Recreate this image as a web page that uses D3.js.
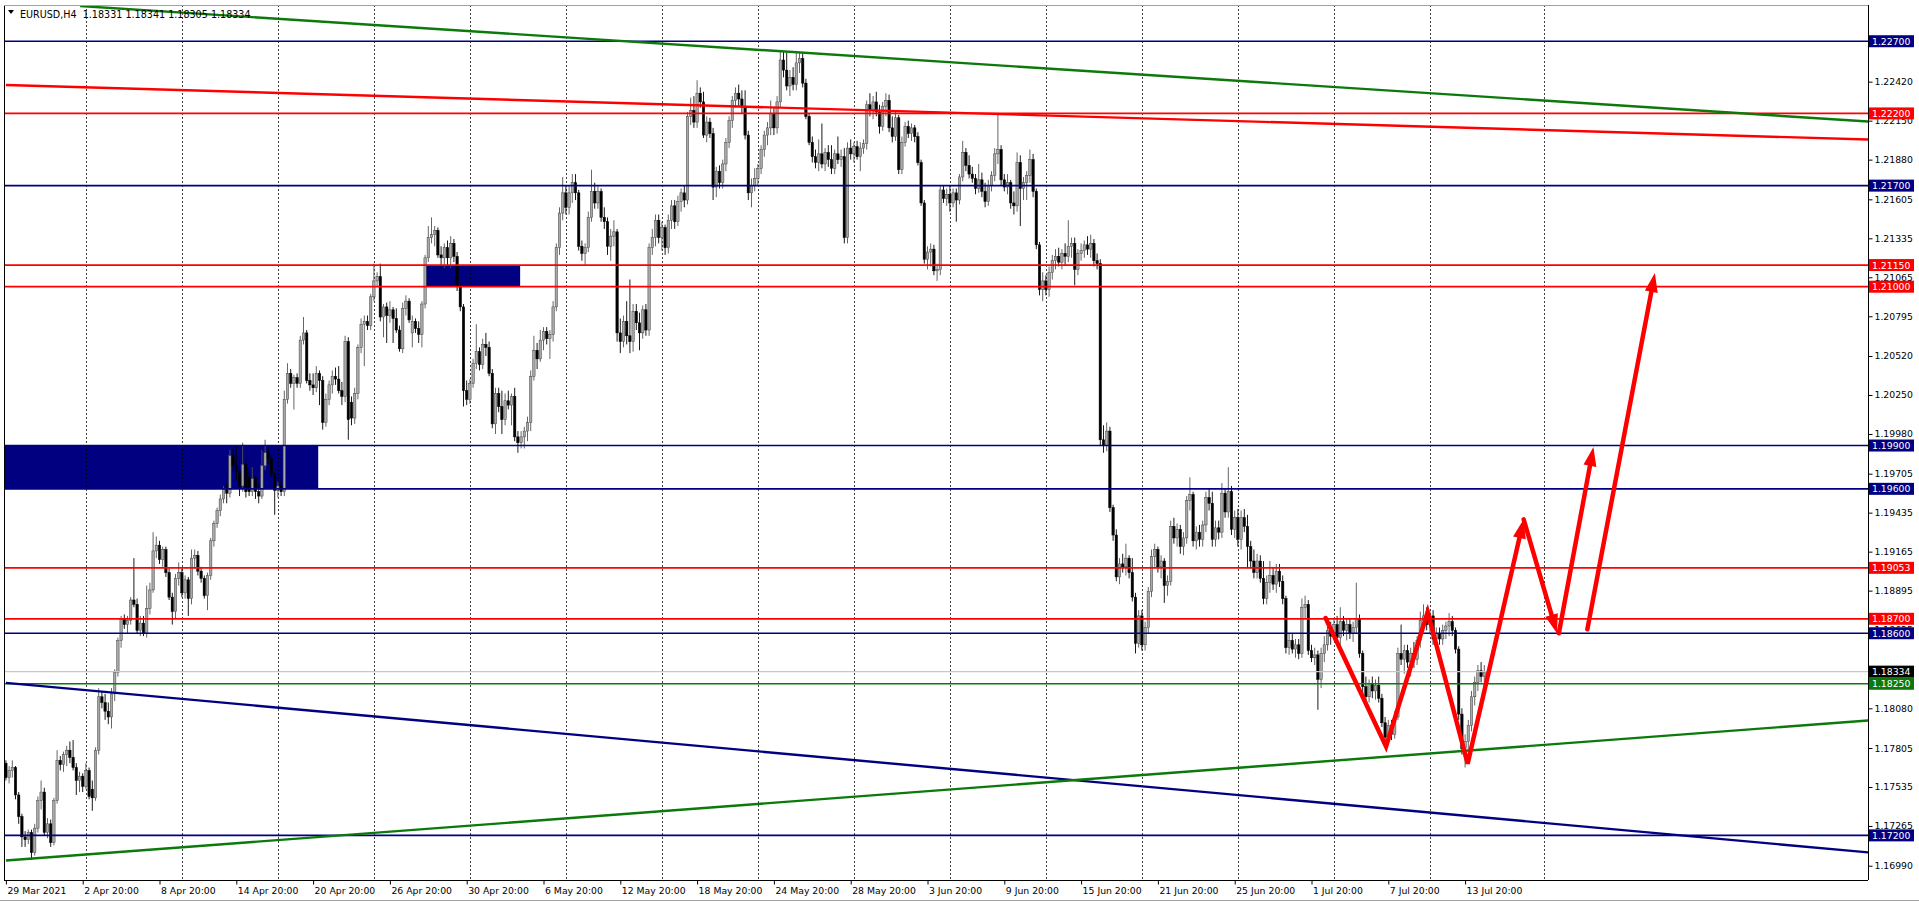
<!DOCTYPE html>
<html><head><meta charset="utf-8">
<script src="https://cdn.jsdelivr.net/npm/d3@7/dist/d3.min.js"></script>
<style>
html,body{margin:0;padding:0;background:#fff;overflow:hidden;}
svg{display:block;}
text{font-family:"DejaVu Sans",Tahoma,sans-serif;}
</style></head><body>
<svg id="chart" width="1919" height="902"></svg>
<script>
// ---------- DATA ----------
const symbolTitle = "EURUSD,H4";
const titleQuote = ["1.18331", "1.18341", "1.18305", "1.18334"];

// H4 candles, [open, high, low, close], one per bar starting 29 Mar 2021
const ohlc = [
[1.1770,1.1772,1.1758,1.1760],[1.1760,1.1768,1.1756,1.1765],[1.1765,1.1772,1.1760,1.1767],[1.1767,1.1768,1.1745,1.1748],[1.1748,1.1750,1.1728,1.1733],[1.1733,1.1735,1.1712,1.1719],
[1.1719,1.1723,1.1712,1.1717],[1.1717,1.1724,1.1714,1.1722],[1.1722,1.1724,1.1703,1.1708],[1.1708,1.1728,1.1706,1.1725],[1.1725,1.1747,1.1722,1.1744],[1.1744,1.1758,1.1738,1.1750],
[1.1750,1.1753,1.1720,1.1722],[1.1722,1.1732,1.1718,1.1728],[1.1728,1.1731,1.1712,1.1715],[1.1715,1.1746,1.1713,1.1744],[1.1744,1.1779,1.1742,1.1772],[1.1772,1.1775,1.1765,1.1769],
[1.1769,1.1778,1.1764,1.1776],[1.1776,1.1782,1.1768,1.1779],[1.1779,1.1785,1.1770,1.1774],[1.1774,1.1786,1.1765,1.1767],[1.1767,1.1770,1.1748,1.1758],[1.1758,1.1764,1.1750,1.1761],
[1.1761,1.1763,1.1750,1.1754],[1.1754,1.1770,1.1752,1.1765],[1.1765,1.1767,1.1745,1.1747],[1.1752,1.1758,1.1737,1.1746],[1.1746,1.1781,1.1744,1.1779],[1.1779,1.1822,1.1776,1.1816],
[1.1816,1.1820,1.1808,1.1812],[1.1812,1.1818,1.1800,1.1806],[1.1806,1.1812,1.1797,1.1802],[1.1802,1.1822,1.1794,1.1818],[1.1818,1.1835,1.1813,1.1833],[1.1833,1.1857,1.1830,1.1855],
[1.1855,1.1872,1.1850,1.1870],[1.1870,1.1873,1.1863,1.1866],[1.1866,1.1872,1.1860,1.1869],[1.1869,1.1885,1.1866,1.1883],[1.1883,1.1912,1.1878,1.1880],[1.1880,1.1884,1.1860,1.1862],
[1.1862,1.1872,1.1858,1.1867],[1.1867,1.1872,1.1858,1.1860],[1.1860,1.1893,1.1857,1.1877],[1.1877,1.1895,1.1873,1.1890],[1.1890,1.1930,1.1888,1.1917],[1.1917,1.1927,1.1912,1.1921],
[1.1921,1.1924,1.1908,1.1911],[1.1911,1.1920,1.1906,1.1918],[1.1918,1.1920,1.1899,1.1902],[1.1902,1.1905,1.1883,1.1885],[1.1885,1.1888,1.1866,1.1875],[1.1875,1.1901,1.1870,1.1898],
[1.1898,1.1909,1.1893,1.1902],[1.1902,1.1905,1.1885,1.1888],[1.1888,1.1900,1.1884,1.1897],[1.1897,1.1899,1.1872,1.1884],[1.1884,1.1918,1.1880,1.1912],[1.1912,1.1918,1.1905,1.1914],
[1.1914,1.1917,1.1900,1.1903],[1.1903,1.1906,1.1895,1.1898],[1.1898,1.1900,1.1884,1.1886],[1.1886,1.1902,1.1876,1.1900],[1.1900,1.1926,1.1897,1.1924],[1.1924,1.1938,1.1920,1.1936],
[1.1936,1.1947,1.1933,1.1945],[1.1945,1.1956,1.1941,1.1953],[1.1953,1.1962,1.1950,1.1960],[1.1960,1.1964,1.1950,1.1957],[1.1957,1.1987,1.1954,1.1983],[1.1983,1.1988,1.1972,1.1976],
[1.1976,1.1990,1.1966,1.1972],[1.1972,1.1980,1.1955,1.1962],[1.1962,1.1992,1.1958,1.1977],[1.1977,1.1980,1.1954,1.1958],[1.1968,1.1972,1.1955,1.1958],[1.1958,1.1975,1.1955,1.1967],
[1.1967,1.1969,1.1953,1.1958],[1.1958,1.1963,1.1950,1.1955],[1.1955,1.1987,1.1953,1.1976],[1.1976,1.1994,1.1973,1.1985],[1.1985,1.1989,1.1977,1.1981],[1.1981,1.1984,1.1968,1.1970],
[1.1970,1.1972,1.1942,1.1959],[1.1959,1.1965,1.1954,1.1962],[1.1962,1.1966,1.1955,1.1958],[1.1958,1.2028,1.1955,1.2022],[1.2022,1.2047,1.2019,1.2040],[1.2040,1.2043,1.2030,1.2033],
[1.2033,1.2039,1.2015,1.2037],[1.2037,1.2040,1.2030,1.2033],[1.2033,1.2066,1.2030,1.2063],[1.2063,1.2079,1.2060,1.2068],[1.2068,1.2070,1.2033,1.2035],[1.2035,1.2040,1.2028,1.2032],
[1.2032,1.2040,1.2025,1.2030],[1.2030,1.2045,1.2027,1.2040],[1.2040,1.2042,1.2018,1.2035],[1.2035,1.2038,1.2001,1.2006],[1.2006,1.2026,1.2003,1.2022],[1.2022,1.2035,1.2018,1.2032],
[1.2032,1.2042,1.2026,1.2038],[1.2038,1.2044,1.2032,1.2036],[1.2036,1.2045,1.2026,1.2028],[1.2028,1.2034,1.2018,1.2024],[1.2024,1.2066,1.2020,1.2062],[1.2062,1.2065,1.1994,1.2008],
[1.2020,1.2024,1.2004,1.2009],[1.2009,1.2030,1.2005,1.2026],[1.2026,1.2060,1.2022,1.2058],[1.2058,1.2078,1.2054,1.2074],[1.2074,1.2080,1.2045,1.2076],[1.2076,1.2080,1.2070,1.2073],
[1.2073,1.2095,1.2070,1.2093],[1.2093,1.2116,1.2090,1.2104],[1.2104,1.2110,1.2100,1.2107],[1.2107,1.2116,1.2076,1.2079],[1.2079,1.2088,1.2065,1.2086],[1.2086,1.2089,1.2061,1.2080],
[1.2080,1.2090,1.2075,1.2084],[1.2084,1.2086,1.2061,1.2078],[1.2078,1.2085,1.2068,1.2070],[1.2070,1.2073,1.2055,1.2057],[1.2057,1.2089,1.2054,1.2085],[1.2085,1.2094,1.2080,1.2090],
[1.2090,1.2092,1.2075,1.2077],[1.2068,1.2080,1.2058,1.2076],[1.2076,1.2078,1.2068,1.2071],[1.2071,1.2076,1.2061,1.2067],[1.2067,1.2090,1.2058,1.2088],[1.2088,1.2122,1.2085,1.2120],
[1.2120,1.2142,1.2117,1.2134],[1.2134,1.2148,1.2130,1.2136],[1.2136,1.2142,1.2128,1.2139],[1.2139,1.2141,1.2120,1.2122],[1.2122,1.2128,1.2112,1.2120],[1.2120,1.2130,1.2113,1.2127],
[1.2127,1.2132,1.2115,1.2120],[1.2120,1.2135,1.2113,1.2130],[1.2130,1.2133,1.2117,1.2121],[1.2121,1.2124,1.2097,1.2100],[1.2100,1.2102,1.2083,1.2086],[1.2086,1.2088,1.2017,1.2028],
[1.2028,1.2035,1.2018,1.2022],[1.2022,1.2036,1.2019,1.2033],[1.2033,1.2050,1.2030,1.2047],[1.2047,1.2074,1.2043,1.2055],[1.2055,1.2058,1.2042,1.2046],[1.2046,1.2064,1.2043,1.2060],
[1.2060,1.2068,1.2052,1.2058],[1.2058,1.2062,1.2038,1.2040],[1.2040,1.2043,1.2002,1.2005],[1.2005,1.2030,1.1998,1.2026],[1.2026,1.2030,1.2013,1.2017],[1.2017,1.2028,1.1998,1.2008],
[1.2008,1.2026,1.2004,1.2021],[1.2021,1.2028,1.2015,1.2018],[1.2018,1.2026,1.2004,1.2024],[1.2024,1.2030,1.1993,1.1996],[1.1996,1.2000,1.1985,1.1992],[1.1992,1.2000,1.1988,1.1996],
[1.1996,1.2003,1.1988,1.2000],[1.2000,1.2010,1.1993,1.2006],[1.2006,1.2042,1.2000,1.2038],[1.2038,1.2066,1.2035,1.2056],[1.2056,1.2061,1.2043,1.2050],[1.2050,1.2070,1.2048,1.2063],
[1.2063,1.2072,1.2056,1.2069],[1.2069,1.2072,1.2060,1.2064],[1.2064,1.2070,1.2050,1.2067],[1.2067,1.2090,1.2062,1.2086],[1.2086,1.2130,1.2083,1.2127],[1.2127,1.2155,1.2122,1.2151],
[1.2151,1.2176,1.2146,1.2165],[1.2165,1.2170,1.2150,1.2155],[1.2155,1.2170,1.2150,1.2165],[1.2165,1.2178,1.2158,1.2172],[1.2172,1.2178,1.2160,1.2165],[1.2165,1.2167,1.2125,1.2128],
[1.2128,1.2132,1.2118,1.2123],[1.2123,1.2130,1.2115,1.2127],[1.2127,1.2152,1.2124,1.2148],[1.2148,1.2181,1.2145,1.2166],[1.2166,1.2172,1.2154,1.2158],[1.2158,1.2170,1.2154,1.2166],
[1.2166,1.2168,1.2145,1.2148],[1.2148,1.2155,1.2140,1.2145],[1.2145,1.2148,1.2122,1.2128],[1.2128,1.2140,1.2118,1.2135],[1.2135,1.2146,1.2128,1.2138],[1.2138,1.2140,1.2062,1.2068],
[1.2068,1.2078,1.2054,1.2062],[1.2062,1.2080,1.2058,1.2076],[1.2076,1.2090,1.2060,1.2066],[1.2066,1.2105,1.2054,1.2062],[1.2062,1.2088,1.2055,1.2083],[1.2083,1.2088,1.2070,1.2075],
[1.2075,1.2082,1.2056,1.2068],[1.2068,1.2087,1.2064,1.2084],[1.2084,1.2088,1.2066,1.2070],[1.2070,1.2130,1.2066,1.2127],[1.2127,1.2140,1.2122,1.2134],[1.2134,1.2150,1.2128,1.2146],
[1.2146,1.2150,1.2130,1.2134],[1.2134,1.2145,1.2125,1.2141],[1.2141,1.2143,1.2122,1.2127],[1.2127,1.2150,1.2123,1.2146],[1.2146,1.2160,1.2140,1.2156],[1.2156,1.2160,1.2140,1.2145],
[1.2145,1.2163,1.2142,1.2159],[1.2159,1.2168,1.2152,1.2165],[1.2165,1.2170,1.2155,1.2160],[1.2160,1.2221,1.2157,1.2218],[1.2218,1.2231,1.2212,1.2222],[1.2222,1.2232,1.2210,1.2214],
[1.2214,1.2243,1.2210,1.2234],[1.2234,1.2238,1.2224,1.2228],[1.2228,1.2235,1.2203,1.2205],[1.2205,1.2218,1.2200,1.2214],[1.2214,1.2217,1.2203,1.2206],[1.2206,1.2210,1.2160,1.2169],
[1.2169,1.2183,1.2162,1.2180],[1.2180,1.2184,1.2168,1.2172],[1.2172,1.2188,1.2168,1.2185],[1.2185,1.2203,1.2180,1.2200],[1.2200,1.2218,1.2196,1.2215],[1.2215,1.2232,1.2210,1.2229],
[1.2229,1.2238,1.2224,1.2234],[1.2234,1.2240,1.2225,1.2230],[1.2230,1.2236,1.2220,1.2225],[1.2225,1.2236,1.2202,1.2205],[1.2205,1.2208,1.2160,1.2165],[1.2165,1.2175,1.2155,1.2170],
[1.2170,1.2182,1.2166,1.2175],[1.2175,1.2185,1.2170,1.2182],[1.2182,1.2198,1.2178,1.2195],[1.2195,1.2208,1.2190,1.2205],[1.2205,1.2214,1.2198,1.2210],[1.2210,1.2229,1.2205,1.2220],
[1.2220,1.2224,1.2205,1.2210],[1.2210,1.2232,1.2206,1.2228],[1.2228,1.2264,1.2224,1.2257],[1.2257,1.2263,1.2245,1.2250],[1.2250,1.2262,1.2236,1.2239],[1.2239,1.2250,1.2232,1.2245],
[1.2245,1.2252,1.2236,1.2240],[1.2240,1.2262,1.2236,1.2255],[1.2255,1.2262,1.2248,1.2258],[1.2258,1.2262,1.2238,1.2241],[1.2241,1.2244,1.2216,1.2218],[1.2218,1.2220,1.2198,1.2200],
[1.2200,1.2204,1.2186,1.2190],[1.2190,1.2195,1.2182,1.2186],[1.2186,1.2202,1.2180,1.2192],[1.2192,1.2213,1.2182,1.2185],[1.2185,1.2196,1.2180,1.2193],[1.2193,1.2198,1.2183,1.2188],
[1.2188,1.2198,1.2178,1.2182],[1.2182,1.2195,1.2178,1.2192],[1.2192,1.2204,1.2185,1.2188],[1.2188,1.2195,1.2183,1.2190],[1.2190,1.2196,1.2130,1.2134],[1.2134,1.2200,1.2130,1.2196],
[1.2196,1.2202,1.2188,1.2192],[1.2192,1.2200,1.2186,1.2197],[1.2197,1.2201,1.2188,1.2190],[1.2190,1.2200,1.2180,1.2196],[1.2196,1.2202,1.2192,1.2199],[1.2199,1.2229,1.2195,1.2226],
[1.2226,1.2234,1.2218,1.2222],[1.2222,1.2232,1.2216,1.2228],[1.2228,1.2235,1.2218,1.2221],[1.2221,1.2226,1.2206,1.2211],[1.2211,1.2228,1.2208,1.2225],[1.2225,1.2234,1.2218,1.2229],
[1.2229,1.2233,1.2207,1.2210],[1.2210,1.2218,1.2200,1.2204],[1.2204,1.2222,1.2201,1.2217],[1.2217,1.2219,1.2178,1.2181],[1.2181,1.2204,1.2178,1.2200],[1.2200,1.2214,1.2197,1.2211],
[1.2211,1.2215,1.2203,1.2206],[1.2206,1.2213,1.2201,1.2210],[1.2210,1.2212,1.2200,1.2204],[1.2204,1.2207,1.2184,1.2186],[1.2186,1.2188,1.2156,1.2158],[1.2158,1.2160,1.2116,1.2119],
[1.2119,1.2128,1.2112,1.2124],[1.2124,1.2130,1.2114,1.2126],[1.2126,1.2129,1.2108,1.2111],[1.2111,1.2116,1.2104,1.2112],[1.2112,1.2170,1.2108,1.2167],[1.2167,1.2170,1.2158,1.2161],
[1.2161,1.2168,1.2156,1.2164],[1.2164,1.2170,1.2152,1.2158],[1.2158,1.2168,1.2155,1.2165],[1.2165,1.2168,1.2145,1.2160],[1.2160,1.2178,1.2157,1.2176],[1.2176,1.2201,1.2173,1.2193],
[1.2193,1.2196,1.2180,1.2184],[1.2184,1.2191,1.2175,1.2178],[1.2178,1.2183,1.2172,1.2175],[1.2175,1.2178,1.2164,1.2168],[1.2168,1.2185,1.2165,1.2174],[1.2174,1.2179,1.2162,1.2166],
[1.2166,1.2172,1.2155,1.2159],[1.2159,1.2174,1.2156,1.2170],[1.2170,1.2180,1.2166,1.2177],[1.2177,1.2196,1.2173,1.2192],[1.2192,1.2219,1.2185,1.2195],[1.2195,1.2198,1.2170,1.2174],
[1.2174,1.2178,1.2166,1.2169],[1.2169,1.2178,1.2164,1.2172],[1.2172,1.2174,1.2154,1.2158],[1.2158,1.2166,1.2150,1.2156],[1.2156,1.2193,1.2152,1.2186],[1.2186,1.2191,1.2142,1.2168],
[1.2168,1.2176,1.2160,1.2172],[1.2172,1.2180,1.2160,1.2177],[1.2177,1.2195,1.2172,1.2188],[1.2188,1.2192,1.2162,1.2166],[1.2166,1.2168,1.2126,1.2129],[1.2129,1.2131,1.2094,1.2098],
[1.2098,1.2110,1.2090,1.2104],[1.2104,1.2108,1.2094,1.2098],[1.2098,1.2114,1.2093,1.2110],[1.2110,1.2122,1.2105,1.2118],[1.2118,1.2126,1.2112,1.2121],[1.2121,1.2127,1.2114,1.2117],
[1.2117,1.2126,1.2112,1.2123],[1.2123,1.2130,1.2115,1.2121],[1.2121,1.2146,1.2117,1.2128],[1.2128,1.2134,1.2120,1.2130],[1.2130,1.2134,1.2101,1.2112],[1.2112,1.2126,1.2108,1.2123],
[1.2123,1.2130,1.2118,1.2125],[1.2125,1.2132,1.2120,1.2129],[1.2129,1.2135,1.2122,1.2126],[1.2126,1.2136,1.2120,1.2130],[1.2130,1.2133,1.2114,1.2118],[1.2118,1.2123,1.2112,1.2116],
[1.2116,1.2119,1.1990,1.1994],[1.1994,1.2004,1.1985,1.1990],[1.1990,1.2006,1.1986,1.2000],[1.2000,1.2003,1.1944,1.1947],[1.1947,1.1949,1.1924,1.1928],[1.1928,1.1932,1.1896,1.1899],
[1.1899,1.1912,1.1894,1.1908],[1.1908,1.1915,1.1902,1.1906],[1.1906,1.1922,1.1900,1.1912],[1.1912,1.1914,1.1898,1.1902],[1.1902,1.1912,1.1882,1.1885],[1.1885,1.1888,1.1846,1.1853],
[1.1853,1.1876,1.1850,1.1872],[1.1872,1.1876,1.1848,1.1852],[1.1852,1.1868,1.1848,1.1864],[1.1864,1.1892,1.1860,1.1889],[1.1889,1.1918,1.1885,1.1913],[1.1913,1.1922,1.1906,1.1918],
[1.1918,1.1920,1.1902,1.1906],[1.1906,1.1914,1.1898,1.1910],[1.1910,1.1912,1.1881,1.1893],[1.1893,1.1900,1.1886,1.1896],[1.1896,1.1938,1.1893,1.1934],[1.1934,1.1940,1.1922,1.1926],
[1.1926,1.1936,1.1920,1.1932],[1.1932,1.1935,1.1915,1.1920],[1.1920,1.1930,1.1914,1.1926],[1.1926,1.1955,1.1922,1.1952],[1.1952,1.1968,1.1945,1.1956],[1.1956,1.1958,1.1920,1.1924],
[1.1924,1.1934,1.1918,1.1930],[1.1930,1.1935,1.1920,1.1925],[1.1925,1.1938,1.1920,1.1935],[1.1935,1.1958,1.1930,1.1954],[1.1954,1.1960,1.1945,1.1950],[1.1950,1.1958,1.1920,1.1925],
[1.1925,1.1938,1.1920,1.1933],[1.1933,1.1938,1.1925,1.1930],[1.1930,1.1964,1.1926,1.1957],[1.1957,1.1960,1.1940,1.1944],[1.1944,1.1975,1.1940,1.1958],[1.1958,1.1962,1.1928,1.1932],
[1.1932,1.1945,1.1926,1.1940],[1.1940,1.1946,1.1920,1.1925],[1.1925,1.1945,1.1918,1.1940],[1.1940,1.1946,1.1930,1.1934],[1.1934,1.1942,1.1905,1.1920],[1.1920,1.1924,1.1905,1.1910],
[1.1910,1.1918,1.1898,1.1902],[1.1902,1.1915,1.1898,1.1910],[1.1910,1.1914,1.1895,1.1898],[1.1898,1.1910,1.1880,1.1884],[1.1884,1.1900,1.1880,1.1895],[1.1895,1.1910,1.1888,1.1900],
[1.1900,1.1906,1.1890,1.1894],[1.1894,1.1908,1.1888,1.1903],[1.1903,1.1908,1.1892,1.1896],[1.1896,1.1900,1.1880,1.1884],[1.1884,1.1886,1.1846,1.1850],[1.1850,1.1860,1.1845,1.1855],
[1.1855,1.1860,1.1846,1.1849],[1.1849,1.1856,1.1843,1.1852],[1.1852,1.1856,1.1842,1.1846],[1.1846,1.1884,1.1843,1.1878],[1.1878,1.1886,1.1870,1.1880],[1.1880,1.1883,1.1845,1.1848],
[1.1848,1.1852,1.1840,1.1843],[1.1843,1.1850,1.1838,1.1845],[1.1845,1.1848,1.1807,1.1828],[1.1828,1.1850,1.1822,1.1846],[1.1846,1.1858,1.1840,1.1852],[1.1852,1.1866,1.1848,1.1862],
[1.1862,1.1868,1.1852,1.1858],[1.1858,1.1870,1.1855,1.1866],[1.1866,1.1872,1.1855,1.1857],[1.1857,1.1878,1.1852,1.1868],[1.1868,1.1872,1.1858,1.1862],[1.1862,1.1870,1.1855,1.1866],
[1.1866,1.1870,1.1856,1.1860],[1.1860,1.1868,1.1854,1.1864],[1.1864,1.1895,1.1860,1.1870],[1.1870,1.1873,1.1843,1.1846],[1.1846,1.1848,1.1818,1.1823],[1.1823,1.1830,1.1812,1.1816],
[1.1816,1.1828,1.1812,1.1825],[1.1825,1.1830,1.1815,1.1820],[1.1820,1.1828,1.1814,1.1824],[1.1824,1.1830,1.1812,1.1815],[1.1815,1.1818,1.1795,1.1798],[1.1798,1.1802,1.1784,1.1788],
[1.1788,1.1800,1.1785,1.1796],[1.1796,1.1800,1.1786,1.1790],[1.1790,1.1806,1.1787,1.1802],[1.1802,1.1850,1.1800,1.1846],[1.1846,1.1866,1.1838,1.1842],[1.1842,1.1852,1.1832,1.1848],
[1.1848,1.1852,1.1836,1.1840],[1.1840,1.1850,1.1830,1.1846],[1.1846,1.1854,1.1836,1.1842],[1.1842,1.1858,1.1838,1.1855],[1.1855,1.1875,1.1850,1.1869],[1.1869,1.1880,1.1862,1.1872],
[1.1872,1.1878,1.1862,1.1866],[1.1866,1.1876,1.1860,1.1872],[1.1872,1.1876,1.1852,1.1856],[1.1856,1.1864,1.1850,1.1860],[1.1860,1.1864,1.1852,1.1856],[1.1856,1.1866,1.1852,1.1862],
[1.1862,1.1868,1.1856,1.1865],[1.1865,1.1874,1.1858,1.1868],[1.1868,1.1872,1.1858,1.1862],[1.1862,1.1864,1.1846,1.1849],[1.1849,1.1851,1.1800,1.1804],[1.1804,1.1808,1.1776,1.1780],
[1.1780,1.1790,1.1767,1.1785],[1.1785,1.1800,1.1778,1.1796],[1.1796,1.1820,1.1792,1.1816],[1.1816,1.1830,1.1810,1.1826],[1.1826,1.1838,1.1820,1.1834],[1.1834,1.1840,1.1826,1.1830],
[1.1830,1.1838,1.1822,1.1833],[1.18331,1.18341,1.18305,1.18334]
];

// time axis labels and the bar index where each label sits
const timeLabels = ["29 Mar 2021","2 Apr 20:00","8 Apr 20:00","14 Apr 20:00","20 Apr 20:00","26 Apr 20:00","30 Apr 20:00","6 May 20:00","12 May 20:00","18 May 20:00","24 May 20:00","28 May 20:00","3 Jun 20:00","9 Jun 20:00","15 Jun 20:00","21 Jun 20:00","25 Jun 20:00","1 Jul 20:00","7 Jul 20:00","13 Jul 20:00"];
const timeLabelBars = [0,24,48,72,96,120,144,168,192,216,240,264,288,312,336,360,384,408,432,456];
// vertical grid positions (bar index)
const gridBars = [25,55,85,115,145,175,205,235,265,295,325,355,385,415,445,480.6];
// price axis tick labels
const priceTicks = [1.22420,1.22150,1.21880,1.21605,1.21335,1.21065,1.20795,1.20520,1.20250,1.19980,1.19705,1.19435,1.19165,1.18895,1.18625,1.18350,1.18080,1.17805,1.17535,1.17265,1.16990];

// horizontal levels
const navyLevels = [1.22700,1.21700,1.19900,1.19600,1.18600,1.17200];
const redLevels = [1.22200,1.21150,1.21000,1.19053,1.18700];
const greenLevels = [1.18250];
const bidPrice = 1.18334;

// trend lines: [bar, price] end points
const greenFallingLine = [[23.2,1.22944],[582,1.22144]];
const redFallingLine = [[0,1.22397],[582,1.22019]];
const navyFallingLine = [[0,1.18256],[582,1.17082]];
const greenRisingLine = [[0,1.17026],[582,1.17996]];

// filled zones: bar range and price range
const zoneFromBar = [-5, 130.7];
const zoneToBar = [97.6, 160.7];
const zoneHigh = [1.19900, 1.21150];
const zoneLow = [1.19600, 1.21000];

// hand-drawn red projection: [bar, price]
const zigzagPath = [[412.4,1.18705],[431.3,1.17816],[444.3,1.18747],[456.8,1.17696],[474.3,1.19389]];
const arrowDown = [[474.3,1.19389],[484.7,1.18600]];
const arrowUpShort = [[485.3,1.18600],[496.1,1.19889]];
const arrowUpLong = [[494.2,1.18627],[515.3,1.21094]];

// ---------- LAYOUT ----------
const svg = d3.select("#chart");
const L = 4, R = 1868, T = 5, B = 880;
const x = d3.scaleLinear().domain([0, 582]).range([5.9, 1868.3]);
const y = d3.scaleLinear().domain([1.16891, 1.22944]).range([880, 6]);
const NAVY = "#000080", RED = "#ff0000", GREEN = "#0b7a0b";

svg.append("rect").attr("width",1919).attr("height",902).attr("fill","#fff");

svg.append("defs").append("clipPath").attr("id","plot")
  .append("rect").attr("x",L).attr("y",T).attr("width",R-L).attr("height",B-T);

const plot = svg.append("g").attr("clip-path","url(#plot)");

// zones (background)
plot.selectAll("rect.zone").data(zoneFromBar).enter().append("rect")
  .attr("class","zone")
  .attr("x",(d)=>x(d))
  .attr("width",(d,i)=>x(zoneToBar[i])-x(d))
  .attr("y",(d,i)=>y(zoneHigh[i]))
  .attr("height",(d,i)=>y(zoneLow[i])-y(zoneHigh[i]))
  .attr("fill",NAVY);

// vertical dashed grid
plot.selectAll("line.grid").data(gridBars).enter().append("line")
  .attr("x1",d=>Math.round(x(d))+0.5).attr("x2",d=>Math.round(x(d))+0.5)
  .attr("y1",T).attr("y2",B)
  .attr("stroke","#000").attr("stroke-width",1).attr("stroke-dasharray","2,2").attr("opacity",0.75);

// title
const title = svg.append("g");
title.append("path").attr("d","M8,10 L14,10 L11,14 Z").attr("fill","#000");
title.append("text").attr("x",20).attr("y",18).attr("font-size","9.6px").attr("fill","#000")
  .style("white-space","pre").text(symbolTitle + "  " + titleQuote.join(" "));

// candles
const bw = 2.4;
const cg = plot.append("g");
cg.selectAll("line.wick").data(ohlc).enter().append("line")
  .attr("x1",(d,i)=>x(i)).attr("x2",(d,i)=>x(i))
  .attr("y1",d=>y(d[1])).attr("y2",d=>y(d[2]))
  .attr("stroke",d=>d[3]>=d[0]?"#555":"#000").attr("stroke-width",0.9);
cg.selectAll("rect.body").data(ohlc).enter().append("rect")
  .attr("x",(d,i)=>x(i)-bw/2).attr("width",bw)
  .attr("y",d=>y(Math.max(d[0],d[3])))
  .attr("height",d=>Math.max(0.8, Math.abs(y(d[0])-y(d[3]))))
  .attr("fill",d=>d[3]>=d[0]?"#a8a8a8":"#000")
  .attr("stroke",d=>d[3]>=d[0]?"#444":"#000").attr("stroke-width",0.5);

// horizontal levels
function hline(p, color, w){
  plot.append("line").attr("x1",L).attr("x2",R).attr("y1",y(p)).attr("y2",y(p))
    .attr("stroke",color).attr("stroke-width",w);
}
hline(bidPrice, "#c8c8c8", 1.2);
navyLevels.forEach(p=>hline(p, NAVY, 1.6));
redLevels.forEach(p=>hline(p, RED, 1.8));
greenLevels.forEach(p=>hline(p, GREEN, 1.6));

// trend lines
const tl = d3.line().x(d=>x(d[0])).y(d=>y(d[1]));
[[greenFallingLine,GREEN],[redFallingLine,RED],[navyFallingLine,NAVY],[greenRisingLine,GREEN]].forEach(([pts,c])=>{
  plot.append("path").attr("d",tl(pts)).attr("fill","none").attr("stroke",c).attr("stroke-width",2.4);
});

// red projection arrows
const AW = 4.5, HL = 19, HW = 6.5;
function toScreen(pts){ return pts.map(p=>[x(p[0]), y(p[1])]); }
function drawArrow(pts){
  const s = toScreen(pts);
  const n = s.length;
  const [x1,y1] = s[n-2], [x2,y2] = s[n-1];
  const len = Math.hypot(x2-x1,y2-y1);
  const ux = (x2-x1)/len, uy = (y2-y1)/len;
  const bx = x2-ux*HL, by = y2-uy*HL;
  const shaft = s.slice(0,n-1).concat([[x2-ux*(HL-3), y2-uy*(HL-3)]]);
  plot.append("path").attr("d", d3.line()(shaft)).attr("fill","none")
    .attr("stroke",RED).attr("stroke-width",AW).attr("stroke-linejoin","miter").attr("stroke-linecap","round");
  plot.append("path").attr("d", `M${x2},${y2} L${bx-uy*HW},${by+ux*HW} L${bx+uy*HW},${by-ux*HW} Z`).attr("fill",RED);
}
drawArrow(zigzagPath);
drawArrow(arrowDown);
drawArrow(arrowUpShort);
drawArrow(arrowUpLong);

// frame
svg.append("line").attr("x1",L+0.5).attr("x2",L+0.5).attr("y1",T).attr("y2",B).attr("stroke","#000");
svg.append("line").attr("x1",L).attr("x2",R).attr("y1",T+0.5).attr("y2",T+0.5).attr("stroke","#a0a0a0");
svg.append("line").attr("x1",0).attr("x2",1919).attr("y1",900.5).attr("y2",900.5).attr("stroke","#a0a0a0");

// right price axis
const yAxis = d3.axisRight(y).tickValues(priceTicks).tickFormat(d3.format(".5f")).tickSize(4).tickPadding(2);
const ya = svg.append("g").attr("transform",`translate(${R+0.5},0)`).call(yAxis);
ya.select(".domain").attr("d",`M0,${T}V${B}`).attr("stroke","#000");
ya.selectAll("text").attr("font-size","9.3px").attr("fill","#000").attr("font-family","DejaVu Sans");

// bottom time axis
const xAxis = d3.axisBottom(x).tickValues(timeLabelBars).tickFormat((d,i)=>timeLabels[i]).tickSize(4).tickPadding(3);
const xa = svg.append("g").attr("transform",`translate(0,${B+0.5})`).call(xAxis);
xa.select(".domain").attr("d",`M${L},0H${R}`).attr("stroke","#000");
xa.selectAll("text").attr("text-anchor","start").attr("dx","1").attr("font-size","9.3px").attr("fill","#000").attr("font-family","DejaVu Sans");

// price labels on the right for levels
function tag(p, bg, txt){
  const g = svg.append("g").attr("transform",`translate(${R+1},${y(p)})`);
  g.append("rect").attr("x",0).attr("y",-6).attr("width",45).attr("height",12).attr("fill",bg);
  g.append("text").attr("x",3).attr("y",3.6).attr("font-size","9.3px").attr("fill","#fff")
    .attr("font-family","DejaVu Sans").text(txt);
}
const fmt = d3.format(".5f");
navyLevels.forEach(p=>tag(p, NAVY, fmt(p)));
redLevels.forEach(p=>tag(p, RED, fmt(p)));
greenLevels.forEach(p=>tag(p, GREEN, fmt(p)));
tag(bidPrice, "#000", fmt(bidPrice));
</script>
</body></html>
